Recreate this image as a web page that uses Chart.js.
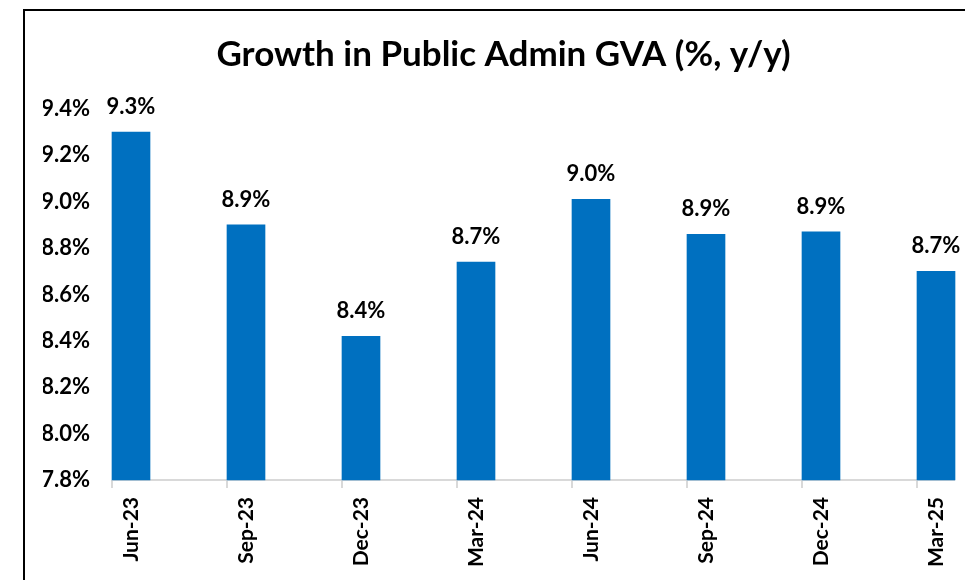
<!DOCTYPE html>
<html>
<head>
<meta charset="utf-8">
<script src="https://cdn.jsdelivr.net/npm/chart.js@4"></script>
<style>
  html, body { margin: 0; padding: 0; background: #fff; }
  #wrap { position: relative; width: 965px; height: 580px; overflow: hidden; }
  #frame { position: absolute; left: 23px; top: 9px; width: 1000px; height: 600px;
           border-left: 2px solid #000; border-top: 2px solid #000; pointer-events: none; }
  canvas { position: absolute; left: 0; top: 0; }
</style>
</head>
<body>
<div id="wrap">
  <canvas id="grafico" width="965" height="580"></canvas>
  <div id="frame"></div>
</div>
<script>
const quarters = ["Jun-23", "Sep-23", "Dec-23", "Mar-24", "Jun-24", "Sep-24", "Dec-24", "Mar-25"];
const growth = [9.30, 8.90, 8.42, 8.74, 9.01, 8.86, 8.87, 8.70];
const yMin = 7.8;
const yMax = 9.4;
const yStep = 0.2;

const fonte = "Lato";

// values above each bar
const rotulos = {
  id: "rotulos",
  afterDatasetsDraw(chart) {
    const ctx = chart.ctx;
    const meta = chart.getDatasetMeta(0);
    ctx.save();
    ctx.font = "bold 22px " + fonte;
    ctx.fillStyle = "#000";
    ctx.textAlign = "center";
    ctx.textBaseline = "alphabetic";
    meta.data.forEach(function(bar, i){
      ctx.fillText(growth[i].toFixed(1) + "%", bar.x, bar.y - 18);
    });
    ctx.restore();
  }
};

// excel style axis line with tick marks at the left edge of each bar
const eixo = {
  id: "eixo",
  beforeDatasetsDraw(chart) {
    const ctx = chart.ctx;
    const meta = chart.getDatasetMeta(0);
    const y = chart.scales.y.getPixelForValue(yMin);
    const primeira = meta.data[0];
    const ultima = meta.data[meta.data.length - 1];
    ctx.save();
    ctx.strokeStyle = "#d9d9d9";
    ctx.lineWidth = 2;
    ctx.beginPath();
    ctx.moveTo(primeira.x - primeira.width / 2, y);
    ctx.lineTo(ultima.x + ultima.width / 2, y);
    meta.data.forEach(function(bar){
      let x = Math.round(bar.x - bar.width / 2);
      ctx.moveTo(x, y);
      ctx.lineTo(x, y + 8);
    });
    ctx.stroke();
    ctx.restore();
  }
};

// title sits a bit right of the canvas centre in the original
const centroTitulo = {
  id: "centroTitulo",
  afterLayout(chart) {
    if (chart.titleBlock) {
      chart.titleBlock.left += 14;
      chart.titleBlock.right += 14;
    }
  }
};

new Chart(document.getElementById("grafico"), {
  type: "bar",
  data: {
    labels: quarters,
    datasets: [{
      data: growth,
      base: yMin,
      backgroundColor: "#0070C0",
      barThickness: 38,
      clip: false
    }]
  },
  options: {
    responsive: false,
    animation: false,
    layout: { padding: { left: 43, right: 29, top: 0, bottom: 0 } },
    plugins: {
      legend: { display: false },
      tooltip: { enabled: false },
      title: {
        display: true,
        text: "Growth in Public Admin GVA (%, y/y)",
        color: "#000",
        font: { family: fonte, size: 35, weight: "bold", lineHeight: 1.2 },
        padding: { top: 34, bottom: 33 }
      }
    },
    scales: {
      x: {
        offset: false,
        grid: { display: false, drawTicks: false },
        border: { display: false },
        ticks: {
          color: "#000",
          font: { family: fonte, size: 21, weight: "bold" },
          minRotation: 90,
          maxRotation: 90,
          padding: 17,
          autoSkip: false
        },
        afterFit(scale){
          scale.height = 100;
          scale.paddingLeft = 0;
          scale.paddingRight = 0;
        }
      },
      y: {
        min: yMin,
        max: yMax,
        grid: { display: false, drawTicks: false },
        border: { display: false },
        ticks: {
          stepSize: yStep,
          color: "#000",
          font: { family: fonte, size: 22, weight: "bold" },
          padding: 41,
          callback: function(v){ return v.toFixed(1) + "%"; }
        },
        afterFit(scale){ scale.width = 88; }
      }
    }
  },
  plugins: [eixo, rotulos, centroTitulo]
});
</script>
</body>
</html>
